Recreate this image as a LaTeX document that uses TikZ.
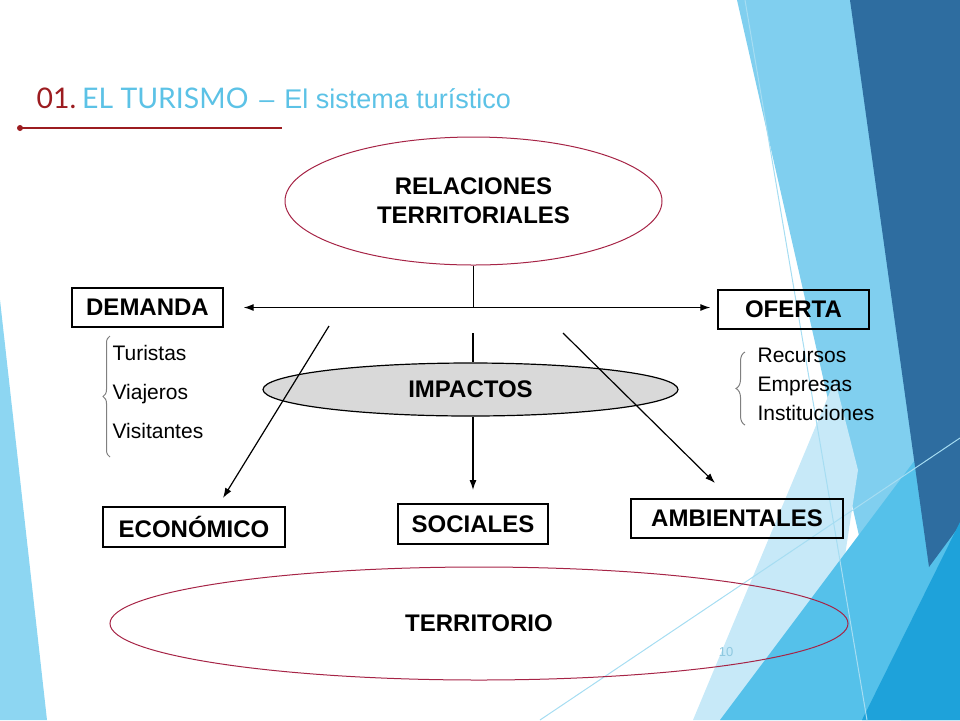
\documentclass[tikz,border=0pt]{standalone}
\usepackage{fontspec}
\setmainfont{Liberation Sans}
\newfontfamily\titlefont{Lato}
\usepackage{xcolor}
\usepackage{tikz}
\usetikzlibrary{matrix,shapes.geometric,decorations.pathreplacing,arrows.meta}

\definecolor{titlered}{HTML}{9C1C20}
\definecolor{titleblue}{HTML}{5CC2E6}
\definecolor{ovalred}{HTML}{A62446}
\definecolor{gris}{HTML}{D9D9D9}
\definecolor{cielo}{HTML}{8DD6F2}
\definecolor{bandaclara}{HTML}{80CFEF}
\definecolor{palido}{HTML}{C7E9F8}
\definecolor{bandaoscura}{HTML}{2E6DA0}
\definecolor{medio}{HTML}{55C1EA}
\definecolor{intenso}{HTML}{1EA2DA}
\definecolor{hilo}{HTML}{A6DDF2}
\definecolor{numcolor}{HTML}{8FC9E0}

\begin{document}
\begin{tikzpicture}[x=0.5pt, y=-0.5pt, line width=0.6pt, >={Latex[length=5pt,width=3.5pt]},
		box/.style={draw, line width=0.65pt, inner sep=0pt, font=\fontsize{12}{14}\selectfont\bfseries},
		oval/.style={ellipse, draw=ovalred, line width=0.5pt, inner sep=0pt, align=center, font=\fontsize{12}{14.5}\selectfont\bfseries},
		lista/.style={matrix of nodes, inner sep=0pt, nodes={anchor=west, inner sep=0pt, text height=7.5pt, text depth=2.25pt, font=\fontsize{10.5}{12}\selectfont}},
		llave/.style={draw=gray, line width=0.5pt, decorate, decoration={brace, amplitude=#1}}]
	\useasboundingbox (0,0) rectangle (960,720);
	\fill[cielo] (0,300) -- (47,720) -- (0,720) -- cycle;
	\fill[bandaclara] (737,0) -- (960,0) -- (960,720) -- (901,720) -- cycle;
	\fill[palido] (693,720) -- (835,380) -- (858,470) -- (820,720) -- cycle;
	\fill[medio] (720,720) -- (960,400) -- (960,720) -- cycle;
	\fill[bandaoscura] (850,0) -- (960,0) -- (960,525) -- (929,567) -- cycle;
	\fill[intenso] (862,720) -- (960,522) -- (960,720) -- cycle;
	\draw[hilo, line width=0.5pt] (745,0) -- (867,720);
	\draw[hilo, line width=0.5pt] (540,720) -- (960,438);

	\node[anchor=base west, inner sep=0pt] (titulo) at (36,108) {{\titlefont\fontsize{14.2}{16}\selectfont\color{titlered}01.\hspace{3pt}\color{titleblue}EL TURISMO}\fontsize{13.5}{16}\selectfont\color{titleblue}\hspace{5.5pt}--\hspace{5pt}El sistema turístico};
	\fill[titlered] (20,128) circle (3);
	\draw[titlered, line width=0.8pt] (20,128) -- (282,128);

	\node[oval, minimum width=188.5pt, minimum height=64pt] (rel) at (473.5,201) {RELACIONES\\TERRITORIALES};
	\node[box, minimum width=75.5pt, minimum height=19.5pt] (demanda) at (147.5,307.5) {DEMANDA};
	\node[box, minimum width=75.5pt, minimum height=19.5pt] (oferta) at (793.5,309.5) {OFERTA};
	\node[ellipse, draw, fill=gris, line width=0.6pt, inner sep=0pt, minimum width=207.5pt, minimum height=26.5pt, font=\fontsize{12}{14}\selectfont\bfseries] (imp) at (470.5,389.5) {IMPACTOS};
	\node[box, minimum width=91pt, minimum height=20pt] (econ) at (194,527) {ECONÓMICO};
	\node[box, minimum width=75pt, minimum height=20pt] (soc) at (473,524) {SOCIALES};
	\node[box, minimum width=106pt, minimum height=19.5pt] (amb) at (737,518.5) {AMBIENTALES};
	\node[oval, minimum width=369pt, minimum height=56.5pt] (terr) at (479,623.5) {TERRITORIO};
	\node[font=\fontsize{6.5}{7}\selectfont, text=numcolor, inner sep=0pt] (pag) at (726,652) {10};

	\matrix (dem) [lista, row sep=9.75pt, anchor=west] at (112,394) {Turistas\\ Viajeros\\ Visitantes\\};
	\matrix (ofe) [lista, row sep=4.75pt, anchor=west] at (757,386) {Recursos\\ Empresas\\ Instituciones\\};
	\draw[llave=3.5pt] (110,457) -- (110,336);
	\draw[llave=4.5pt] (745,425) -- (745,352);

	\coordinate (e0) at (329,326);
	\coordinate (e1) at (223,498);
	\coordinate (s0) at (473,333);
	\coordinate (s1) at (473,490);
	\coordinate (a0) at (563,333);
	\coordinate (a1) at (715,483);
	\draw[<->, shorten <=10pt, shorten >=3.5pt] (demanda.east) -- (demanda.east -| oferta.west);
	\draw (rel.south) -- (rel.south |- demanda.east);
	\draw[->] (e0) -- (e1);
	\draw (s0) -- (s0 |- imp.north);
	\draw[->] (s0 |- imp.south) -- (s1);
	\draw[->] (a0) -- (a1);
\end{tikzpicture}
\end{document}
